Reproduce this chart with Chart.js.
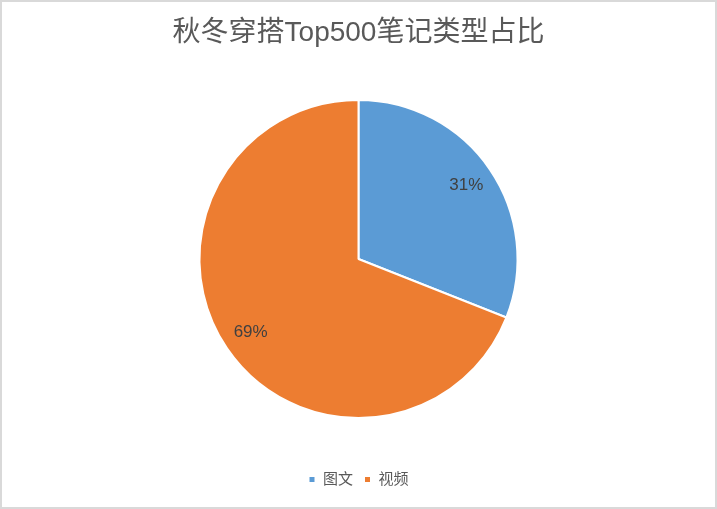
<!DOCTYPE html>
<html>
<head>
<meta charset="utf-8">
<script src="https://cdn.jsdelivr.net/npm/chart.js@4.4.0/dist/chart.umd.min.js"></script>
<style>
  html, body { margin: 0; padding: 0; background: #fff; }
  #wrap { position: relative; width: 717px; height: 509px; box-sizing: border-box; border: 2px solid #d9d9d9; }
  #c { position: absolute; left: -2px; top: -2px; }
</style>
</head>
<body>
<div id="wrap"><canvas id="c" width="717" height="509"></canvas></div>
<script>
const titleText = '秋冬穿搭Top500笔记类型占比';
const categories = ['图文', '视频'];
const values = [31, 69];
const colors = ['#5B9BD5', '#ED7D31'];

const FONT = '"Liberation Sans", "Noto Sans CJK SC", sans-serif';

const labelPlugin = {
  id: 'pctLabels',
  afterDatasetsDraw(chart) {
    const ctx = chart.ctx;
    const meta = chart.getDatasetMeta(0);
    const total = values.reduce((a, b) => a + b, 0);
    ctx.save();
    ctx.font = '17px ' + FONT;
    ctx.fillStyle = '#404040';
    ctx.textAlign = 'center';
    ctx.textBaseline = 'middle';
    meta.data.forEach((arc, i) => {
      const p = arc.getProps(['x', 'y', 'startAngle', 'endAngle', 'outerRadius'], true);
      const mid = (p.startAngle + p.endAngle) / 2;
      const r = p.outerRadius * 0.82;
      const x = p.x + Math.cos(mid) * r;
      const y = p.y + Math.sin(mid) * r;
      ctx.fillText(Math.round(values[i] / total * 100) + '%', x, y);
    });
    ctx.restore();
  }
};

new Chart(document.getElementById('c'), {
  type: 'pie',
  data: {
    labels: categories,
    datasets: [{
      data: values,
      backgroundColor: colors,
      borderColor: '#ffffff',
      borderWidth: 2,
      radius: 159
    }]
  },
  options: {
    responsive: false,
    animation: false,
    layout: { padding: { top: 0, bottom: 12, left: 0, right: 0 } },
    plugins: {
      title: {
        display: true,
        text: titleText,
        color: '#595959',
        font: { family: FONT, size: 28, weight: 'normal' },
        padding: { top: 16, bottom: 7.4 }
      },
      legend: {
        position: 'bottom',
        labels: {
          boxWidth: 7,
          boxHeight: 7,
          padding: 11,
          color: '#595959',
          font: { family: FONT, size: 15 }
        }
      },
      tooltip: { enabled: false }
    }
  },
  plugins: [labelPlugin]
});
</script>
</body>
</html>
